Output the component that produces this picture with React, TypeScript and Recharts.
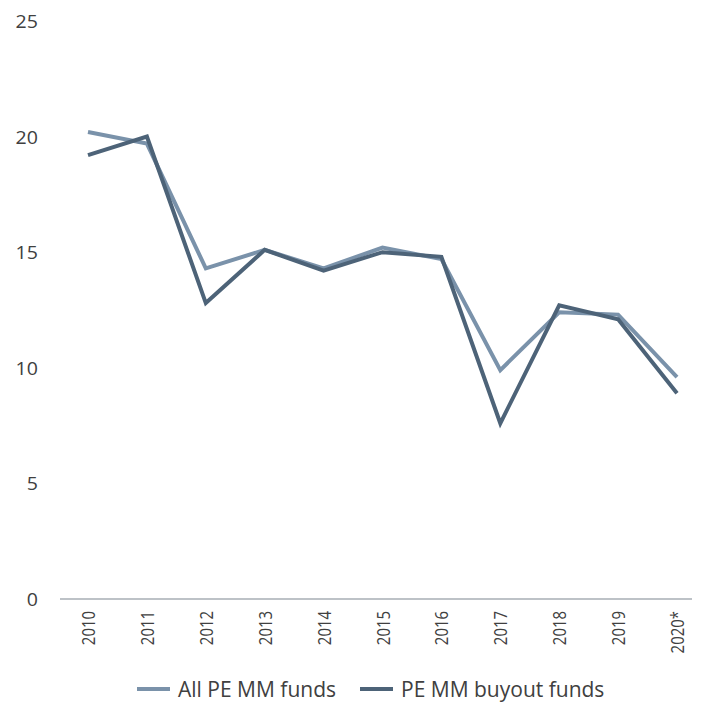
import { LineChart, Line, XAxis, YAxis, Legend } from 'recharts';

const years = ['2010', '2011', '2012', '2013', '2014', '2015', '2016', '2017', '2018', '2019', '2020*'];
const allFunds = [20.2, 19.7, 14.3, 15.1, 14.3, 15.2, 14.7, 9.9, 12.4, 12.3, 9.6];
const buyoutFunds = [19.2, 20.0, 12.8, 15.1, 14.2, 15.0, 14.8, 7.6, 12.7, 12.1, 8.9];
const yTicks = [0, 5, 10, 15, 20, 25];

const data = years.map((year, i) => ({
  year,
  all: allFunds[i],
  buyout: buyoutFunds[i],
}));

const FONT = '"Open Sans", sans-serif';
const TEXT = '#404040';

// labels in the source look a bit squashed along their length, hence the scale
const XTick = ({ x, y, payload }: any) => (
  <text
    x={0}
    y={0}
    transform={`translate(${x},${y}) rotate(-90) scale(0.83,1)`}
    textAnchor="end"
    dominantBaseline="central"
    fontFamily={FONT}
    fontSize={18}
    fill={TEXT}
  >
    {payload.value}
  </text>
);

const YTick = ({ x, y, payload }: any) => (
  <text
    x={0}
    y={0}
    transform={`translate(${x},${y}) scale(1.12,1)`}
    textAnchor="end"
    dominantBaseline="central"
    fontFamily={FONT}
    fontSize={17.5}
    fill={TEXT}
  >
    {payload.value}
  </text>
);

const LegendContent = ({ payload }: any) => (
  <div style={{ display: 'flex', height: 35, paddingLeft: 137, alignItems: 'center', paddingTop: 5, boxSizing: 'border-box' }}>
    {(payload || []).map((p: any) => (
      <div key={p.value} style={{ display: 'flex', alignItems: 'center', marginRight: 24 }}>
        <svg width={33} height={6}>
          <line x1={0} y1={3} x2={33} y2={3} stroke={p.color} strokeWidth={4} />
        </svg>
        <span style={{ marginLeft: 8, fontFamily: FONT, fontSize: 21, lineHeight: '26px', color: TEXT, whiteSpace: 'nowrap' }}>
          {p.value}
        </span>
      </div>
    ))}
  </div>
);

export default function App() {
  return (
    <div style={{ position: 'absolute', left: 0, top: 0, background: '#fff', overflow: 'hidden', width: 702, height: 704 }}>
      <LineChart width={702} height={704} data={data} margin={{ top: 21, right: 10, left: 0, bottom: 0 }}>
        <XAxis
          dataKey="year"
          axisLine={{ stroke: '#a7aeb5', strokeWidth: 1.5 }}
          tickLine={false}
          tickMargin={6}
          height={70}
          interval={0}
          padding={{ left: 28, right: 15 }}
          tick={<XTick />}
        />
        <YAxis
          domain={[0, 25]}
          ticks={yTicks}
          width={60}
          axisLine={false}
          tickLine={false}
          tickMargin={16}
          tick={<YTick />}
        />
        <Legend verticalAlign="bottom" content={<LegendContent />} wrapperStyle={{ left: 0, width: 702 }} />
        <Line
          type="linear"
          dataKey="all"
          name="All PE MM funds"
          stroke="#7a92aa"
          strokeWidth={4}
          dot={false}
          isAnimationActive={false}
        />
        <Line
          type="linear"
          dataKey="buyout"
          name="PE MM buyout funds"
          stroke="#4d6378"
          strokeWidth={4}
          dot={false}
          isAnimationActive={false}
        />
      </LineChart>
    </div>
  );
}
